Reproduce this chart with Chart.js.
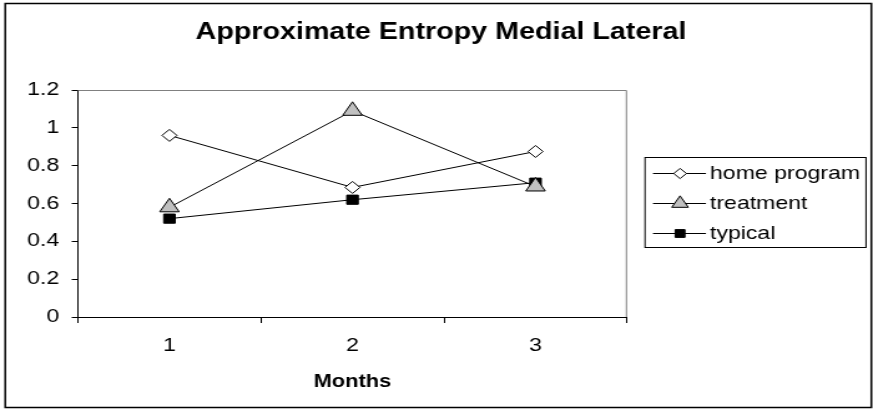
<!DOCTYPE html>
<html>
<head>
<meta charset="utf-8">
<script src="https://cdn.jsdelivr.net/npm/chart.js@4"></script>
<style>
  html, body { margin: 0; padding: 0; background: #fff; overflow: hidden; }
  /* the original picture is stretched sideways, so the chart is drawn narrower and widened */
  #wrap { width: 700px; height: 411px; position: relative; transform: scaleX(1.2471); transform-origin: 0 0; }
</style>
</head>
<body>
<div id="wrap"><canvas id="grafico"></canvas></div>
<script>
const months = ['1', '2', '3'];
const homeProgram = [0.96, 0.685, 0.875];
const treatment = [0.58, 1.09, 0.69];
const typical = [0.52, 0.62, 0.71];
const yTicks = [0, 0.2, 0.4, 0.6, 0.8, 1, 1.2];

const FONT = '"Liberation Sans", Arial, sans-serif';

// marco, borde del area, titulo y leyenda
const decor = {
    id: 'decor',
    beforeDraw(chart) {
        const c = chart.ctx;
        c.save();
        c.fillStyle = '#fff';
        c.fillRect(0, 0, chart.width, chart.height);
        c.restore();
    },
    afterDraw(chart) {
        const c = chart.ctx;
        const a = chart.chartArea;
        c.save();
        // borde gris arriba y derecha
        c.strokeStyle = '#808080';
        c.lineWidth = 1;
        c.beginPath();
        c.moveTo(a.left, a.top + 0.5);
        c.lineTo(a.right - 0.5, a.top + 0.5);
        c.lineTo(a.right - 0.5, a.bottom);
        c.stroke();

        // marco exterior
        c.strokeStyle = '#000';
        c.lineWidth = 1.5;
        c.strokeRect(4.2, 3.5, 694.5, 404);

        // titulo
        c.fillStyle = '#000';
        c.font = 'bold 23px ' + FONT;
        c.textAlign = 'center';
        c.textBaseline = 'middle';
        c.fillText('Approximate Entropy Medial Lateral', 353.6, 33);

        // leyenda
        c.lineWidth = 1;
        c.fillStyle = '#fff';
        c.fillRect(517.2, 157.5, 177.2, 90);
        c.strokeStyle = '#000';
        c.strokeRect(517.2, 157.5, 177.2, 90);
        c.font = '18.5px ' + FONT;
        c.textAlign = 'left';
        chart.data.datasets.forEach((ds, i) => {
            const y = 173 + i * 30;
            c.strokeStyle = '#000';
            c.lineWidth = 1;
            c.beginPath();
            c.moveTo(523.6, y + 0.5);
            c.lineTo(566.1, y + 0.5);
            c.stroke();
            c.fillStyle = ds.pointBackgroundColor;
            c.strokeStyle = '#000';
            Chart.helpers.drawPoint(c, {
                pointStyle: ds.pointStyle,
                radius: ds.pointRadius * 0.85,
                borderWidth: 1,
                rotation: 0
            }, 545.3, y + 0.5);
            c.fillStyle = '#000';
            c.fillText(ds.label, 569.3, y + 1);
        });
        c.restore();
    }
};

const ctx = document.getElementById('grafico').getContext('2d');
new Chart(ctx, {
    type: 'line',
    data: {
        labels: months,
        datasets: [{
            label: 'home program',
            data: homeProgram,
            borderColor: '#000',
            borderWidth: 1,
            pointStyle: 'rectRot',
            pointRadius: 6,
            pointBackgroundColor: '#fff',
            pointBorderColor: '#000',
            pointBorderWidth: 1
        }, {
            label: 'treatment',
            data: treatment,
            borderColor: '#000',
            borderWidth: 1,
            pointStyle: 'triangle',
            pointRadius: 9,
            pointBackgroundColor: '#c0c0c0',
            pointBorderColor: '#000',
            pointBorderWidth: 1
        }, {
            label: 'typical',
            data: typical,
            borderColor: '#000',
            borderWidth: 1,
            pointStyle: 'rect',
            pointRadius: 6.5,
            pointBackgroundColor: '#000',
            pointBorderColor: '#000',
            pointBorderWidth: 1
        }]
    },
    options: {
        responsive: true,
        maintainAspectRatio: false,
        animation: false,
        layout: { padding: { top: 90, right: 197.2, left: 0, bottom: 0 } },
        plugins: {
            legend: { display: false },
            title: { display: false },
            tooltip: { enabled: false }
        },
        scales: {
            x: {
                offset: true,
                grid: { offset: true, drawOnChartArea: false, drawTicks: true, tickLength: 6, color: '#000' },
                border: { color: '#000', width: 1 },
                ticks: { color: '#000', font: { family: FONT, size: 18.5 }, padding: 12 },
                title: {
                    display: true, text: 'Months', color: '#000',
                    font: { family: FONT, size: 17.5, weight: 'bold' },
                    padding: { top: 0, bottom: 18 }
                },
                afterFit(s) { s.height = 94; }
            },
            y: {
                min: 0,
                max: 1.2,
                afterBuildTicks(s) { s.ticks = yTicks.map(v => ({ value: v })); },
                grid: { drawOnChartArea: false, drawTicks: true, tickLength: 5, color: '#000' },
                border: { color: '#000', width: 1 },
                ticks: {
                    color: '#000', font: { family: FONT, size: 18.5 }, padding: 10,
                    callback: v => String(+v.toFixed(1))
                },
                afterFit(s) { s.width = 62.5; }
            }
        }
    },
    plugins: [decor]
});
</script>
</body>
</html>
